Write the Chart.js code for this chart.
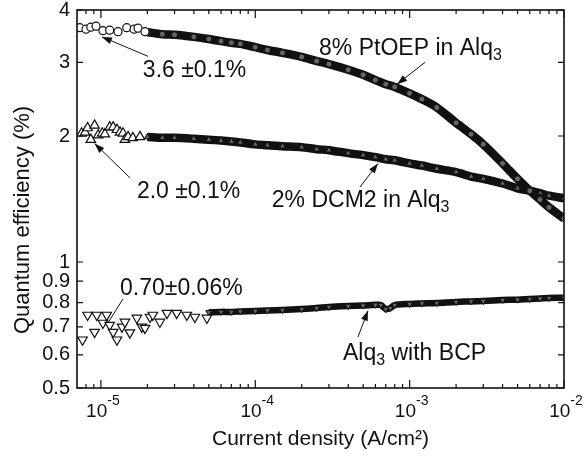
<!DOCTYPE html>
<html>
<head>
<meta charset="utf-8">
<script src="https://cdn.jsdelivr.net/npm/chart.js@4.4.1/dist/chart.umd.min.js"></script>
<style>
  body { margin: 0; background: #fff; }
  #qe { display: block; }
</style>
</head>
<body>
<canvas id="qe" width="584" height="466"></canvas>
<script>
// values (current density in A/cm2, efficiency in %)
const ptoepSparseX = [7.3e-6, 8.0e-6, 8.6e-6, 9.3e-6, 1.03e-5, 1.14e-5, 1.29e-5, 1.47e-5, 1.64e-5, 1.74e-5, 1.93e-5];
const ptoepSparseY = [3.63, 3.60, 3.64, 3.66, 3.57, 3.58, 3.55, 3.63, 3.60, 3.62, 3.55];

const bandX = [2e-5, 2.5e-5, 3e-5, 4e-5, 5e-5, 6e-5, 7e-5, 8e-5, 1e-4, 1.2e-4, 1.5e-4, 2e-4, 2.5e-4, 3e-4, 4e-4, 5e-4,
  6e-4, 7e-4, 8e-4, 1e-3, 1.2e-3, 1.5e-3, 2e-3, 2.5e-3, 3e-3, 4e-3, 5e-3, 6e-3, 7e-3, 8e-3, 1e-2];
const ptoepBandY = [3.54, 3.50, 3.49, 3.45, 3.41, 3.37, 3.34, 3.32, 3.26, 3.21, 3.16, 3.09, 3.02, 2.97, 2.88, 2.80,
  2.72, 2.66, 2.62, 2.53, 2.45, 2.34, 2.15, 2.02, 1.91, 1.72, 1.58, 1.48, 1.41, 1.35, 1.27];
const dcmBandY = [1.99, 1.98, 1.98, 1.97, 1.96, 1.95, 1.94, 1.93, 1.91, 1.90, 1.89, 1.88, 1.86, 1.85, 1.82, 1.80,
  1.78, 1.76, 1.75, 1.72, 1.70, 1.67, 1.64, 1.60, 1.58, 1.54, 1.50, 1.48, 1.46, 1.44, 1.42];

const dcmSparseX = [7.5e-6, 7.9e-6, 8.2e-6, 8.6e-6, 9.1e-6, 9.6e-6, 1.02e-5, 1.06e-5, 1.14e-5, 1.2e-5, 1.27e-5, 1.33e-5,
  1.39e-5, 1.43e-5, 1.5e-5, 1.61e-5, 1.79e-5];
const dcmSparseY = [2.03, 2.04, 2.09, 1.96, 2.12, 2.01, 2.03, 2.02, 2.10, 2.10, 2.07, 2.04, 2.03, 1.96, 1.99, 1.98, 1.99];

const bcpSparseX = [7.6e-6, 8.2e-6, 9.1e-6, 9.4e-6, 1.03e-5, 1.09e-5, 1.14e-5, 1.2e-5, 1.27e-5, 1.37e-5, 1.43e-5, 1.54e-5,
  1.71e-5, 1.84e-5, 1.93e-5, 2.08e-5, 2.17e-5, 2.41e-5, 2.68e-5, 3.1e-5, 3.6e-5, 4.06e-5, 4.86e-5];
const bcpSparseY = [0.652, 0.747, 0.68, 0.747, 0.715, 0.747, 0.707, 0.68, 0.652, 0.70, 0.719, 0.678, 0.735, 0.70, 0.695,
  0.739, 0.747, 0.719, 0.755, 0.755, 0.747, 0.739, 0.735];
const bcpBandX = [5e-5, 6e-5, 7e-5, 8e-5, 1e-4, 1.2e-4, 1.5e-4, 2e-4, 2.5e-4, 3e-4, 4e-4, 5e-4, 6e-4, 6.5e-4, 7e-4, 7.5e-4,
  8e-4, 1e-3, 1.2e-3, 1.5e-3, 2e-3, 2.5e-3, 3e-3, 4e-3, 5e-3, 6e-3, 7e-3, 8e-3, 1e-2];
const bcpBandY = [0.758, 0.760, 0.760, 0.762, 0.764, 0.766, 0.768, 0.772, 0.776, 0.781, 0.785, 0.787, 0.790, 0.789, 0.772,
  0.776, 0.789, 0.794, 0.796, 0.798, 0.803, 0.805, 0.807, 0.811, 0.813, 0.816, 0.818, 0.820, 0.822];

const yTicks = [0.5, 0.6, 0.7, 0.8, 0.9, 1, 2, 3, 4];
const yTickLabels = ['0.5', '0.6', '0.7', '0.8', '0.9', '1', '2', '3', '4'];
const xDecades = [-5, -4, -3, -2];

// text notes, anchored in data units
const notes = [
  { parts: [['3.6 \u00b10.1%', 0]], at: [1.87e-5, 2.77], from: [2.02e-5, 3.10], to: [1.015e-5, 3.45], head: true },
  { parts: [['2.0 \u00b10.1%', 0]], at: [1.71e-5, 1.42], from: [1.54e-5, 1.59], to: [9.1e-6, 1.92], head: true },
  { parts: [['8% PtOEP in Alq', 0], ['3', 1]], at: [2.59e-4, 3.12], from: [1.26e-3, 3.00], to: [8.3e-4, 2.66], head: true },
  { parts: [['2% DCM2 in Alq', 0], ['3', 1]], at: [1.28e-4, 1.35], from: [4.77e-4, 1.51], to: [6.24e-4, 1.72], head: true },
  { parts: [['0.70\u00b10.06%', 0]], at: [1.33e-5, 0.834], from: [1.39e-5, 0.816], to: [1.11e-5, 0.715], head: false },
  { parts: [['Alq', 0], ['3', 1], [' with BCP', 0]], at: [3.70e-4, 0.583], from: [4.63e-4, 0.662], to: [5.37e-4, 0.765], head: true }
];

const INK = '#111';
const FAMILY = '"Liberation Sans", Arial, sans-serif';

function pts(xs, ys) {
  return xs.map((x, i) => ({ x: x, y: ys[i] }));
}

function sparse(label, xs, ys, style, rot, r) {
  return {
    label: label,
    data: pts(xs, ys),
    showLine: false,
    pointStyle: style,
    rotation: rot,
    pointRadius: r,
    pointBackgroundColor: '#fff',
    pointBorderColor: INK,
    pointBorderWidth: 1.2
  };
}

function band(label, xs, ys, style, rot, r, w) {
  return {
    label: label,
    data: pts(xs, ys),
    borderColor: INK,
    borderWidth: w,
    tension: 0.3,
    pointStyle: style,
    rotation: rot,
    pointRadius: r,
    pointBackgroundColor: '#666',
    pointBorderColor: INK,
    pointBorderWidth: 1
  };
}

function arrow(ctx, x1, y1, x2, y2, head) {
  ctx.beginPath();
  ctx.moveTo(x1, y1);
  ctx.lineTo(x2, y2);
  ctx.stroke();
  if (!head) return;
  const a = Math.atan2(y2 - y1, x2 - x1);
  const L = 10, W = 3.5;
  ctx.beginPath();
  ctx.moveTo(x2, y2);
  ctx.lineTo(x2 - L * Math.cos(a) + W * Math.sin(a), y2 - L * Math.sin(a) - W * Math.cos(a));
  ctx.lineTo(x2 - L * Math.cos(a) - W * Math.sin(a), y2 - L * Math.sin(a) + W * Math.cos(a));
  ctx.closePath();
  ctx.fill();
}

const frame = {
  id: 'frame',
  afterDatasetsDraw(chart) {
    const { ctx, chartArea: { top, bottom, left, right }, scales: { x, y } } = chart;
    ctx.save();
    ctx.strokeStyle = INK;
    ctx.fillStyle = INK;

    // box
    ctx.lineWidth = 1.6;
    ctx.strokeRect(left, top, right - left, bottom - top);

    // x ticks, bottom and top
    ctx.lineWidth = 1.2;
    ctx.beginPath();
    for (let d = -6; d <= -2; d++) {
      for (let m = 1; m <= 9; m++) {
        const v = m * Math.pow(10, d);
        if (v < x.min * 1.001 || v > x.max * 1.001) continue;
        const px = x.getPixelForValue(v);
        const len = m === 1 ? 8 : 4;
        ctx.moveTo(px, bottom); ctx.lineTo(px, bottom - len);
        ctx.moveTo(px, top); ctx.lineTo(px, top + len);
      }
    }
    // y ticks, left and right
    for (const v of yTicks) {
      const py = y.getPixelForValue(v);
      ctx.moveTo(left, py); ctx.lineTo(left + 6, py);
      ctx.moveTo(right, py); ctx.lineTo(right - 6, py);
    }
    ctx.stroke();

    // y tick labels
    ctx.font = '20px ' + FAMILY;
    ctx.textAlign = 'right';
    ctx.textBaseline = 'middle';
    yTicks.forEach((v, i) => ctx.fillText(yTickLabels[i], left - 7, y.getPixelForValue(v)));

    // x tick labels 10^n
    ctx.textAlign = 'left';
    ctx.textBaseline = 'alphabetic';
    for (const d of xDecades) {
      const px = x.getPixelForValue(Math.pow(10, d));
      ctx.font = '19px ' + FAMILY;
      const w1 = ctx.measureText('10').width;
      ctx.font = '14px ' + FAMILY;
      const sup = '-' + Math.abs(d);
      const w2 = ctx.measureText(sup).width;
      const x0 = px - (w1 + w2) / 2 + 2;
      ctx.font = '19px ' + FAMILY;
      ctx.fillText('10', x0, bottom + 29);
      ctx.font = '14px ' + FAMILY;
      ctx.fillText(sup, x0 + w1, bottom + 17);
    }

    // axis titles
    ctx.font = '21px ' + FAMILY;
    ctx.textAlign = 'center';
    ctx.fillText('Current density (A/cm\u00b2)', (left + right) / 2, bottom + 57);
    ctx.save();
    ctx.translate(29, 220);
    ctx.rotate(-Math.PI / 2);
    ctx.font = '22px ' + FAMILY;
    ctx.fillText('Quantum efficiency (%)', 0, 0);
    ctx.restore();

    // notes with arrows
    ctx.lineWidth = 1;
    ctx.textAlign = 'left';
    for (const n of notes) {
      arrow(ctx, x.getPixelForValue(n.from[0]), y.getPixelForValue(n.from[1]),
        x.getPixelForValue(n.to[0]), y.getPixelForValue(n.to[1]), n.head);
      let cx = x.getPixelForValue(n.at[0]);
      const by = y.getPixelForValue(n.at[1]);
      for (const [str, sub] of n.parts) {
        ctx.font = (sub ? '16px ' : '23px ') + FAMILY;
        ctx.fillText(str, cx, by + (sub ? 5 : 0));
        cx += ctx.measureText(str).width;
      }
    }
    ctx.restore();
  }
};

new Chart(document.getElementById('qe'), {
  type: 'line',
  data: {
    datasets: [
      sparse('8% PtOEP in Alq3', ptoepSparseX, ptoepSparseY, 'circle', 0, 4),
      sparse('2% DCM2 in Alq3', dcmSparseX, dcmSparseY, 'triangle', 0, 5.5),
      sparse('Alq3 with BCP', bcpSparseX, bcpSparseY, 'triangle', 180, 5.5),
      band('8% PtOEP in Alq3', bandX, ptoepBandY, 'circle', 0, 3, 8.5),
      band('2% DCM2 in Alq3', bandX, dcmBandY, 'triangle', 0, 3.5, 8.5),
      band('Alq3 with BCP', bcpBandX, bcpBandY, 'triangle', 180, 3.5, 6.5)
    ]
  },
  plugins: [frame],
  options: {
    responsive: false,
    animation: false,
    devicePixelRatio: 1,
    layout: { padding: { top: 10, right: 20, left: 0, bottom: 0 } },
    plugins: { legend: { display: false }, tooltip: { enabled: false } },
    scales: {
      x: {
        type: 'logarithmic',
        min: 7e-6,
        max: 1e-2,
        ticks: { display: false },
        grid: { display: false },
        border: { display: false },
        afterFit(s) { s.height = 78; }
      },
      y: {
        type: 'logarithmic',
        min: 0.5,
        max: 4,
        ticks: { display: false },
        grid: { display: false },
        border: { display: false },
        afterFit(s) { s.width = 77; }
      }
    }
  }
});
</script>
</body>
</html>
